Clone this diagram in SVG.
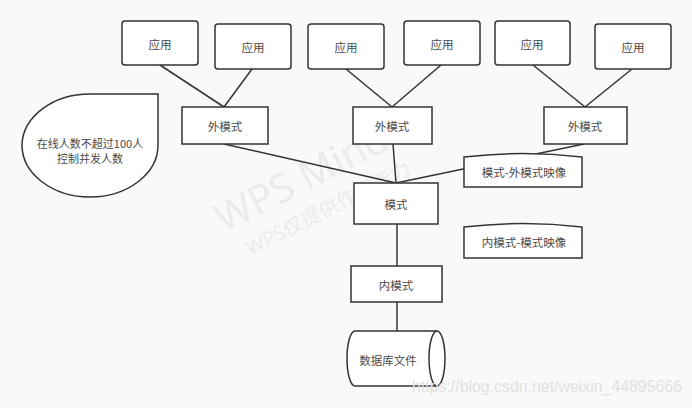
<svg xmlns="http://www.w3.org/2000/svg" width="692" height="408" viewBox="0 0 692 408">
<style>
.box{fill:#fff;stroke:#333;stroke-width:1.5}
.ln{stroke:#333;stroke-width:1.5;fill:none}
.t{font-family:"Noto Sans CJK SC","Liberation Sans",sans-serif;font-size:11.5px;fill:#4a4a4a;text-anchor:middle;dominant-baseline:central}
.s{font-size:11px}
.wm{font-family:"Open Sans","Noto Sans CJK SC",sans-serif;fill:#ebebeb;text-anchor:middle}
</style>
<rect width="692" height="408" fill="#f9f9f9"/>
<g id="watermark" transform="rotate(-27 310 195)">
<text class="wm" x="310" y="190" font-size="40">WPS Mind</text>
<text class="wm" x="320" y="222" font-size="20">WPS仅提供作图能力</text>
</g>
<g id="connectors">
<line class="ln" x1="160" y1="65" x2="224" y2="107"/>
<line class="ln" x1="252" y1="69" x2="224" y2="107"/>
<line class="ln" x1="346" y1="69" x2="392" y2="107"/>
<line class="ln" x1="441" y1="65" x2="392" y2="107"/>
<line class="ln" x1="533" y1="65" x2="585" y2="107"/>
<line class="ln" x1="632" y1="69" x2="585" y2="107"/>
<line class="ln" x1="224" y1="144" x2="396" y2="183"/>
<line class="ln" x1="393" y1="144" x2="396" y2="183"/>
<line class="ln" x1="584" y1="144" x2="396" y2="183"/>
<line class="ln" x1="397" y1="224" x2="397" y2="266"/>
<line class="ln" x1="397" y1="302" x2="397" y2="331"/>
</g>
<g id="app1"><rect class="box" x="122" y="21" width="76" height="44" rx="3"/><text class="t" x="160" y="44">应用</text></g>
<g id="app2"><rect class="box" x="215" y="24" width="76" height="45" rx="3"/><text class="t" x="253" y="47">应用</text></g>
<g id="app3"><rect class="box" x="308" y="24" width="76" height="45" rx="3"/><text class="t" x="346" y="47">应用</text></g>
<g id="app4"><rect class="box" x="404" y="21" width="76" height="44" rx="3"/><text class="t" x="442" y="44">应用</text></g>
<g id="app5"><rect class="box" x="495" y="21" width="75" height="44" rx="3"/><text class="t" x="532" y="44">应用</text></g>
<g id="app6"><rect class="box" x="595" y="24" width="76" height="45" rx="3"/><text class="t" x="633" y="47">应用</text></g>
<g id="ext1"><rect class="box" x="182" y="107" width="86" height="37"/><text class="t" x="225" y="126">外模式</text></g>
<g id="ext2"><rect class="box" x="353" y="107" width="79" height="37"/><text class="t" x="392" y="126">外模式</text></g>
<g id="ext3"><rect class="box" x="544" y="107" width="83" height="37"/><text class="t" x="585" y="126">外模式</text></g>
<g id="note"><path class="box" d="M90,94 L158,94 L158,145 A68,52 0 0 1 90,197 A68,52 0 0 1 22,145 A68,52 0 0 1 90,94 Z"/><text class="t s" x="90" y="143">在线人数不超过100人</text><text class="t s" x="90" y="157.5">控制并发人数</text></g>
<g id="map1"><path class="box" d="M464,157 Q523,150 582,157 L582,187 L464,187 Z"/><text class="t" x="524" y="172">模式-外模式映像</text></g>
<g id="schema"><rect class="box" x="354" y="183" width="84" height="41"/><text class="t" x="396" y="204">模式</text></g>
<g id="map2"><path class="box" d="M464,227 Q523,220 582,227 L582,258 L464,258 Z"/><text class="t" x="524" y="242">内模式-模式映像</text></g>
<g id="internal"><rect class="box" x="351" y="266" width="91" height="36"/><text class="t" x="396" y="285">内模式</text></g>
<g id="db"><path class="box" d="M437,331 L355,331 A8,27.5 0 0 0 355,386 L437,386"/><ellipse class="box" cx="437" cy="358.5" rx="8" ry="27.5"/><text class="t" x="388" y="360">数据库文件</text></g>
<text x="412" y="392" font-family="Liberation Sans,sans-serif" font-size="16" fill="#e2e2e2" textLength="270" lengthAdjust="spacingAndGlyphs">https://blog.csdn.net/weixin_44895666</text>
</svg>
